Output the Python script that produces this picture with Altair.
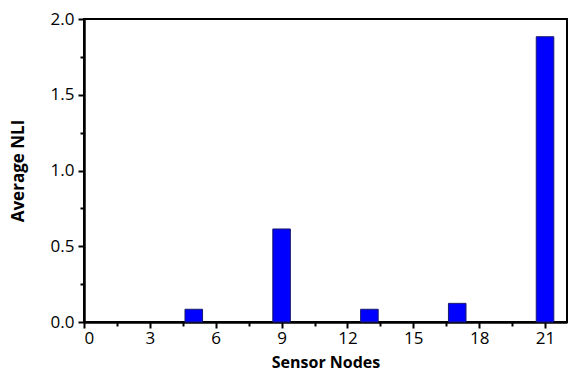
import altair as alt
import pandas as pd

# Average NLI per sensor node
nodes = [5, 9, 13, 17, 21]
avg_nli = [0.084, 0.614, 0.084, 0.123, 1.883]

x_major = [0, 3, 6, 9, 12, 15, 18, 21]
x_minor = [1.5, 4.5, 7.5, 10.5, 13.5, 16.5, 19.5]
y_major = [0.0, 0.5, 1.0, 1.5, 2.0]
y_minor = [0.25, 0.75, 1.25, 1.75]

df = pd.DataFrame({"node": nodes, "nli": avg_nli})

FONT = "Open Sans"
x_scale = alt.Scale(domain=[0, 22], nice=False, zero=False)
y_scale = alt.Scale(domain=[0, 2.0], nice=False)

bars = (
    alt.Chart(df)
    .transform_calculate(x0="datum.node - 0.4", x1="datum.node + 0.4")
    .mark_bar(color="#0000FF", stroke="#1a1a6e", strokeWidth=1)
    .encode(
        x=alt.X("x0:Q", scale=x_scale,
                axis=alt.Axis(values=x_major, format="d", title="Sensor Nodes",
                              orient="bottom", grid=False, tickSize=6,
                              tickWidth=2, tickColor="black",
                              domainColor="black", domainWidth=2.5,
                              labelFont=FONT, labelFontSize=17, labelColor="black",
                              labelPadding=2,
                              titleFont=FONT, titleFontSize=16, titleFontWeight="bold",
                              titleColor="black", titleBaseline="middle",
                              titleY=40)),
        x2="x1:Q",
        y=alt.Y("nli:Q", scale=y_scale,
                axis=alt.Axis(values=y_major, format=".1f", title="Average NLI",
                              orient="left", grid=False, tickSize=6,
                              tickWidth=2, tickColor="black",
                              domainColor="black", domainWidth=2.5,
                              labelFont=FONT, labelFontSize=17, labelColor="black",
                              labelPadding=4,
                              titleFont=FONT, titleFontSize=17, titleFontWeight="bold",
                              titleColor="black", titleBaseline="middle",
                              titleX=-66)),
        y2=alt.datum(0),
    )
)

# Minor tick marks on both axes
minor = (
    alt.Chart(df)
    .mark_point(opacity=0)
    .encode(
        x=alt.X("node:Q", scale=x_scale,
                axis=alt.Axis(values=x_minor, labels=False, title=None, domain=False,
                              orient="bottom", grid=False, tickSize=4, tickWidth=2,
                              tickColor="black")),
        y=alt.Y("nli:Q", scale=y_scale,
                axis=alt.Axis(values=y_minor, labels=False, title=None, domain=False,
                              orient="left", grid=False, tickSize=4, tickWidth=2,
                              tickColor="black")),
    )
)

chart = (
    alt.layer(minor, bars)
    .resolve_axis(x="independent", y="independent")
    .properties(width=483, height=303,
                autosize=alt.AutoSizeParams(type="none"),
                padding={"left": 84, "top": 19, "right": 13, "bottom": 51},
                background="white")
    .configure_view(stroke="black", strokeWidth=2)
)

chart.save("out.html", embed_options={"renderer": "svg", "actions": False})
